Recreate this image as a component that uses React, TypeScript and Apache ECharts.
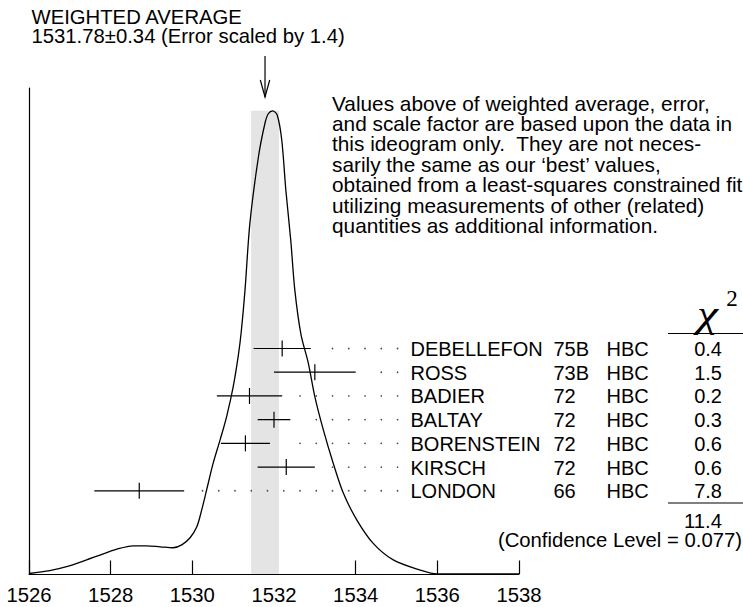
import React, { useEffect, useRef } from "react";
import * as echarts from "echarts";

const FONT = "'Liberation Sans', Arial, Helvetica, sans-serif";
const SERIF = "'Liberation Serif', 'Times New Roman', serif";

// ---- data ----
const xMin = 1526;
const xMax = 1538;
const xStep = 2;

const weightedAverage = 1531.78;
const weightedError = 0.34;
const errorScale = 1.4;

const authors = ["DEBELLEFON", "ROSS", "BADIER", "BALTAY", "BORENSTEIN", "KIRSCH", "LONDON"];
const years = ["75B", "73B", "72", "72", "72", "72", "66"];
const techniques = ["HBC", "HBC", "HBC", "HBC", "HBC", "HBC", "HBC"];
const measuredValues = [1532.2, 1533.0, 1531.4, 1532.0, 1531.3, 1532.3, 1528.7];
const measuredErrors = [0.7, 1.0, 0.8, 0.4, 0.6, 0.7, 1.1];
const chiSquared = ["0.4", "1.5", "0.2", "0.3", "0.6", "0.6", "7.8"];
const chiSquaredTotal = "11.4";
const confidenceLevel = "0.077";

// ideogram curve (x in MeV, height in % of plot height)
const curveX = [
  1526.0, 1526.51, 1526.92, 1527.41, 1527.74, 1528.15, 1528.55, 1528.88, 1529.21, 1529.53,
  1529.74, 1529.94, 1530.11, 1530.23, 1530.35, 1530.51, 1530.68, 1530.84, 1531.0, 1531.13,
  1531.2, 1531.29, 1531.41, 1531.62, 1531.78, 1531.86, 1531.97, 1532.08, 1532.19, 1532.29,
  1532.41, 1532.51, 1532.66, 1532.84, 1533.0, 1533.21, 1533.45, 1533.7, 1534.03, 1534.43,
  1534.92, 1535.58, 1535.99, 1537.0, 1538.0,
];
const curveY = [
  0.1, 0.7, 1.5, 2.9, 3.9, 5.1, 5.8, 5.8, 5.6, 5.4,
  6.0, 7.4, 9.7, 13.2, 17.3, 22.8, 27.6, 32.4, 38.5, 45.2,
  50.0, 58.4, 72.2, 85.9, 92.8, 94.7, 95.3, 94.4, 89.3, 79.0,
  68.7, 58.4, 49.3, 43.4, 36.5, 29.6, 22.8, 16.6, 11.1, 6.3,
  2.9, 0.8, 0.0, 0.0, 0.0,
];

const noteLines = [
  "Values above of weighted average, error,",
  "and scale factor are based upon the data in",
  "this ideogram only.  They are not neces-",
  "sarily the same as our \u2018best\u2019 values,",
  "obtained from a least-squares constrained fit",
  "utilizing measurements of other (related)",
  "quantities as additional information.",
];

// ---- layout ----
const ROW_TOP = 46.4;
const ROW_STEP = 4.88;
const DOT_END = 397.5;
const DOT_STEP = 16.25;
const DOT_GAP = 14;
const COL_NAME = 410.5;
const COL_YEAR = 553.5;
const COL_TECH = 606.5;
const COL_CHI = 722;

function txt(
  text: string,
  x: number,
  y: number,
  size: number,
  align = "left",
  family = FONT,
  extra: any = {},
  styleExtra: any = {}
) {
  return {
    type: "text",
    x,
    y,
    silent: true,
    ...extra,
    style: {
      text,
      fill: "#000",
      fontSize: size,
      fontFamily: family,
      lineHeight: Math.round(size * 0.78),
      align,
      textAlign: align,
      verticalAlign: "middle",
      textVerticalAlign: "middle",
      ...styleExtra,
    },
  };
}

function buildOption() {
  const peak = Math.max(...curveY);
  const rows = measuredValues.map((v, i) => [v, measuredErrors[i], ROW_TOP - i * ROW_STEP]);
  const graphic: any[] = [
    txt("WEIGHTED AVERAGE", 31.5, 16.5, 20.3),
    txt(
      `${weightedAverage.toFixed(2)}\u00b1${weightedError.toFixed(2)} (Error scaled by ${errorScale})`,
      31.5,
      35.5,
      20.3
    ),
    ...noteLines.map((l, i) => txt(l, 332, 103 + i * 20.4, 20.8)),
    txt("\u03c7", 707.5, 314, 38, "center", SERIF, { scaleX: 1.25 }, { fontStyle: "italic" }),
    txt("2", 732, 298, 23, "center", SERIF),
    { type: "line", silent: true, shape: { x1: 668, y1: 333.5, x2: 743, y2: 333.5 }, style: { stroke: "#000", lineWidth: 1.2 } },
    { type: "line", silent: true, shape: { x1: 668, y1: 503, x2: 743, y2: 503 }, style: { stroke: "#000", lineWidth: 1.2 } },
    txt(chiSquaredTotal, COL_CHI, 520.5, 20.3, "right"),
    txt(`(Confidence Level = ${confidenceLevel})`, 742, 540, 20.3, "right"),
  ];

  return {
    animation: false,
    backgroundColor: "#fff",
    grid: { left: 29, right: 224, top: 88, bottom: 33, containLabel: false },
    xAxis: {
      type: "value",
      min: xMin,
      max: xMax,
      interval: xStep,
      splitLine: { show: false },
      axisLine: { show: true, lineStyle: { color: "#000", width: 1.2 } },
      axisTick: { show: true, inside: true, length: 13.5, lineStyle: { color: "#000", width: 1.2 } },
      axisLabel: {
        color: "#000",
        fontSize: 20.3,
        fontFamily: FONT,
        margin: 11,
        formatter: (v: number) => String(v),
      },
    },
    yAxis: {
      type: "value",
      min: 0,
      max: 100,
      splitLine: { show: false },
      axisLine: { show: true, lineStyle: { color: "#000", width: 1.2 } },
      axisTick: { show: false },
      axisLabel: { show: false },
    },
    graphic,
    series: [
      {
        type: "custom",
        name: "band",
        z: 1,
        silent: true,
        data: [[weightedAverage - weightedError, weightedAverage + weightedError, peak]],
        renderItem: (params: any, api: any) => {
          const a = api.coord([api.value(0), api.value(2)]);
          const b = api.coord([api.value(1), 0]);
          return {
            type: "rect",
            shape: { x: a[0], y: a[1], width: b[0] - a[0], height: b[1] - a[1] },
            style: { fill: "#e4e4e4" },
          };
        },
      },
      {
        type: "line",
        name: "ideogram",
        z: 3,
        silent: true,
        showSymbol: false,
        smooth: 0.3,
        data: curveX.map((x, i) => [x, curveY[i]]),
        lineStyle: { color: "#000", width: 1.3 },
      },
      {
        type: "custom",
        name: "arrow",
        z: 4,
        clip: false,
        silent: true,
        data: [[weightedAverage]],
        renderItem: (params: any, api: any) => {
          const x = api.coord([api.value(0), 0])[0];
          return {
            type: "group",
            children: [
              { type: "line", shape: { x1: x, y1: 56, x2: x, y2: 97 }, style: { stroke: "#000", lineWidth: 1.2 } },
              {
                type: "polyline",
                shape: { points: [[x - 4.7, 80], [x, 97], [x + 4.7, 80]] },
                style: { stroke: "#000", lineWidth: 1.2, fill: null },
              },
            ],
          };
        },
      },
      {
        type: "custom",
        name: "measurements",
        z: 5,
        clip: false,
        silent: true,
        data: rows,
        renderItem: (params: any, api: any) => {
          const i = params.dataIndex;
          const v = api.value(0);
          const e = api.value(1);
          const r = api.value(2);
          const c = api.coord([v, r]);
          const lo = api.coord([v - e, r])[0];
          const hi = api.coord([v + e, r])[0];
          const cy = c[1];
          const children: any[] = [
            { type: "line", shape: { x1: lo, y1: cy, x2: hi, y2: cy }, style: { stroke: "#000", lineWidth: 1.2 } },
            { type: "line", shape: { x1: c[0], y1: cy - 8, x2: c[0], y2: cy + 8 }, style: { stroke: "#000", lineWidth: 1.2 } },
          ];
          for (let x = DOT_END; x > hi + DOT_GAP; x -= DOT_STEP) {
            children.push({ type: "circle", shape: { cx: x, cy, r: 0.8 }, style: { fill: "#444" } });
          }
          children.push(txt(authors[i], COL_NAME, cy + 0.5, 20));
          children.push(txt(years[i], COL_YEAR, cy + 0.5, 20));
          children.push(txt(techniques[i], COL_TECH, cy + 0.5, 20));
          children.push(txt(chiSquared[i], COL_CHI, cy + 0.5, 20, "right"));
          return { type: "group", children };
        },
      },
    ],
  };
}

export default function App() {
  const ref = useRef<HTMLDivElement>(null);
  useEffect(() => {
    const chart = echarts.init(ref.current!, null, { renderer: "svg" });
    chart.setOption(buildOption() as any);
    return () => chart.dispose();
  }, []);
  return (
    <div
      ref={ref}
      style={{ position: "absolute", left: 0, top: 0, width: 743, height: 607, background: "#fff" }}
    />
  );
}
